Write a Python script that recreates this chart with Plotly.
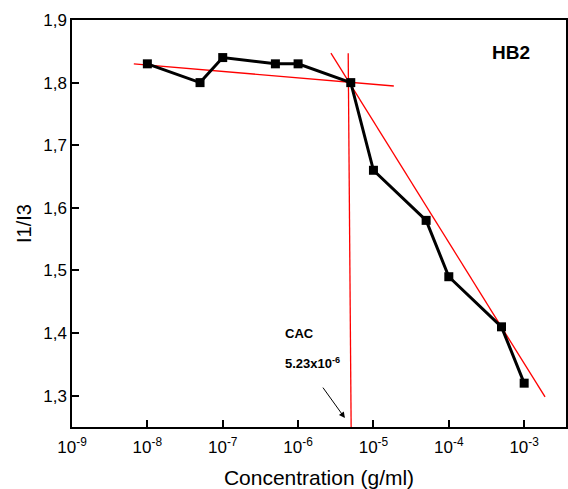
import plotly.graph_objects as go

# data
conc = [1e-8, 5e-8, 1e-7, 5e-7, 1e-6, 5e-6, 1e-5, 5e-5, 1e-4, 5e-4, 1e-3]
ratio = [1.83, 1.80, 1.84, 1.83, 1.83, 1.80, 1.66, 1.58, 1.49, 1.41, 1.32]

# red guide lines (endpoints: concentration, I1/I3)
fit1_x = [10**-8.18, 10**-4.73]
fit1_y = [1.830, 1.7946]
fit2_x = [10**-5.335, 10**-5.296]
fit2_y = [1.847, 1.25]
fit3_x = [10**-5.564, 10**-2.723]
fit3_y = [1.847, 1.298]

xtick_vals = [1e-9, 1e-8, 1e-7, 1e-6, 1e-5, 1e-4, 1e-3]
xtick_text = ["10<sup>-9</sup>", "10<sup>-8</sup>", "10<sup>-7</sup>", "10<sup>-6</sup>",
              "10<sup>-5</sup>", "10<sup>-4</sup>", "10<sup>-3</sup>"]
ytick_vals = [1.3, 1.4, 1.5, 1.6, 1.7, 1.8, 1.9]
ytick_text = ["1,3", "1,4", "1,5", "1,6", "1,7", "1,8", "1,9"]

FONT = "Arial, Liberation Sans, sans-serif"

fig = go.Figure()
for fx, fy in [(fit1_x, fit1_y), (fit2_x, fit2_y), (fit3_x, fit3_y)]:
    fig.add_trace(go.Scatter(x=fx, y=fy, mode="lines",
                             line=dict(color="#ff0000", width=1.3),
                             showlegend=False, hoverinfo="skip"))
fig.add_trace(go.Scatter(x=conc, y=ratio, mode="lines+markers",
                         line=dict(color="black", width=3),
                         marker=dict(symbol="square", size=9, color="black"),
                         showlegend=False))

fig.update_layout(
    width=568, height=489,
    margin=dict(l=72, r=0, t=20, b=62),
    paper_bgcolor="white", plot_bgcolor="white",
    font=dict(family=FONT, color="black", size=17),
    xaxis=dict(type="log", range=[-9, -2.445], tickvals=xtick_vals, ticktext=xtick_text,
               ticks="inside", ticklen=7, tickwidth=1.5, tickcolor="black",
               showline=True, linecolor="black", linewidth=1.5, mirror=True,
               showgrid=False, zeroline=False, ticklabelstandoff=4,
               title=dict(text="Concentration (g/ml)", font=dict(size=21), standoff=14),
               tickfont=dict(size=17)),
    yaxis=dict(range=[1.25, 1.9], tickvals=ytick_vals, ticktext=ytick_text,
               ticks="inside", ticklen=7, tickwidth=1.5, tickcolor="black",
               showline=True, linecolor="black", linewidth=1.5, mirror=True,
               showgrid=False, zeroline=False,
               title=dict(text="I1/I3", font=dict(size=20), standoff=6),
               tickfont=dict(size=17)),
    annotations=[
        dict(text="<b>HB2</b>", xref="paper", yref="paper", x=0.889, y=0.921,
             xanchor="center", yanchor="middle",
             showarrow=False, font=dict(size=19)),
        dict(text="<b>CAC</b>", x=-6.198, y=1.40, xref="x", yref="y",
             xanchor="left", showarrow=False, font=dict(size=13)),
        dict(text="<b>5.23x10<sup>-6</sup></b>", x=-6.198, y=1.352, xref="x", yref="y",
             xanchor="left", showarrow=False, font=dict(size=13)),
        dict(text="", x=-5.379, y=1.2642, xref="x", yref="y",
             ax=-23, ay=-32, showarrow=True, arrowhead=2, arrowsize=1.2,
             arrowwidth=1, arrowcolor="black"),
    ],
)

fig.write_html("out.html")
